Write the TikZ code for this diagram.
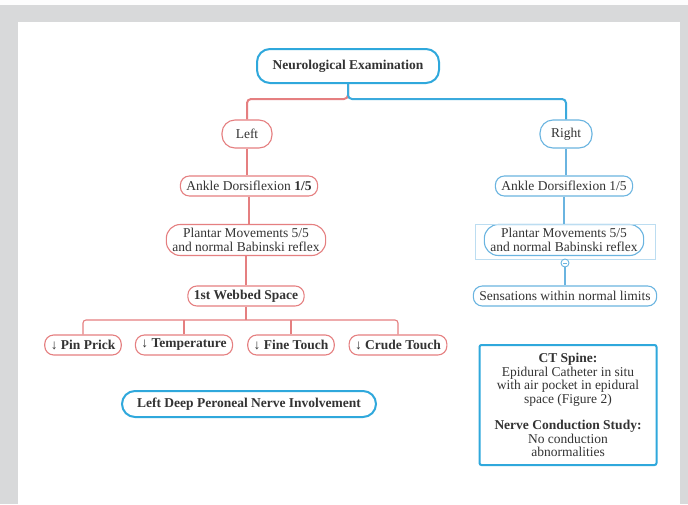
\documentclass[tikz,border=0pt]{standalone}
\usepackage{fontspec}
\setmainfont{Liberation Serif}
\usetikzlibrary{positioning}
\definecolor{redl}{HTML}{E57F80}
\definecolor{bluet}{HTML}{2FA8DC}
\definecolor{bluel}{HTML}{6AB4E0}
\definecolor{txt}{HTML}{333333}
\definecolor{frame}{HTML}{D8D9DA}
\begin{document}
\begin{tikzpicture}[x=1pt,y=-1pt,
  every node/.style={text=txt,font=\fontsize{13.5}{14}\selectfont},
  rbox/.style={draw=redl,line width=1.1pt,rounded corners=9pt,minimum height=20pt,inner xsep=6pt,inner ysep=1pt,fill=white},
  bbox/.style={draw=bluel,line width=1.1pt,rounded corners=9pt,minimum height=20pt,inner xsep=6pt,inner ysep=1pt,fill=white},
  rtwo/.style={rbox,rounded corners=14pt,minimum height=31pt,align=center,font=\fontsize{13.5}{14}\selectfont},
  btwo/.style={bbox,rounded corners=14pt,minimum height=31pt,align=center,font=\fontsize{13.5}{14}\selectfont},
  bfb/.style={font=\fontsize{13.5}{14}\selectfont\bfseries},
  mainbox/.style={draw=bluet,line width=2pt,rounded corners=13pt,fill=white,inner xsep=10pt,font=\fontsize{13.5}{14}\selectfont\bfseries},
  rline/.style={draw=redl,line width=1.1pt},
  bline/.style={draw=bluel,line width=1.1pt},
]
\useasboundingbox (0,0) rectangle (688,504);
\fill[frame] (0,0) rectangle (688,504);
\fill[white!96!frame] (0,0) rectangle (688,5);
\fill[white] (18,22) rectangle (680,504);

\node[mainbox,minimum width=182pt,minimum height=34pt] (root) at (348,66) {Neurological Examination};

\node[rbox,minimum width=50pt,minimum height=28pt,rounded corners=13pt] (left) at (247,134) {Left};
\node[bbox,minimum width=52pt,minimum height=28pt,rounded corners=13pt] (right) at (566,134) {Right};

\node[rbox] (lank) at (249,186) {Ankle Dorsiflexion \textbf{1/5}};
\node[rtwo] (lpl) at (246,240) {Plantar Movements 5/5\\and normal Babinski reflex};
\node[rbox,bfb] (web) at (246,296) {1st Webbed Space};

\node[rbox,bfb] (pin) at (83,345) {↓ Pin Prick};
\node[rbox,bfb] (temp) at (184,345) {↓ Temperature};
\node[rbox,bfb] (fine) at (291,345) {↓ Fine Touch};
\node[rbox,bfb] (crude) at (398,345) {↓ Crude Touch};

\node[mainbox,minimum width=254pt,minimum height=26pt] (ldp) at (249,404) {Left Deep Peroneal Nerve Involvement};

\node[bbox] (rank) at (564,186) {Ankle Dorsiflexion 1/5};
\node[btwo] (rpl) at (564,240) {Plantar Movements 5/5\\and normal Babinski reflex};
\draw[bluel!45,line width=0.8pt] (475,224) rectangle (655,259);
\node[bbox] (sens) at (565,296) {Sensations within normal limits};

\node[draw=bluet,line width=2pt,rounded corners=2pt,minimum width=177pt,minimum height=120pt,align=center,font=\fontsize{13.5}{13.5}\selectfont] (ct) at (568,405)
 {\textbf{CT Spine:}\\Epidural Catheter in situ\\with air pocket in epidural\\space (Figure 2)\\[13pt]\textbf{Nerve Conduction Study:}\\No conduction\\abnormalities};

% root branches
\coordinate (rb) at (348,99);
\draw[redl,line width=2pt,rounded corners=4pt] (root.south) -- (rb) -- (left.north |- rb) -- (left.north);
\draw[bluet!80!bluel,line width=2pt,rounded corners=4pt] (root.south) -- (rb) -- (right.north |- rb) -- (right.north);

% left chain
\draw[rline] (left.south) -- (left.south |- lank.north);
\draw[rline] (lank.south) -- (lank.south |- lpl.north);
\draw[rline] (lpl.south) -- (web.north);
\coordinate (hb) at (246,320);
\draw[rline] (web.south) -- (hb);
\draw[rline,rounded corners=3pt] (pin.north) -- (pin.north |- hb) -- (crude.north |- hb) -- (crude.north);
\draw[rline] (temp.north) -- (temp.north |- hb);
\draw[rline] (fine.north) -- (fine.north |- hb);

% right chain
\draw[bline] (right.south) -- (right.south |- rank.north);
\draw[bline] (rank.south) -- (rank.south |- rpl.north);
\node[draw=bluel,fill=white,circle,line width=0.9pt,inner sep=0pt,minimum size=8pt] (minus) at (565,263) {};
\draw[bluel,line width=0.8pt] ([xshift=-2pt]minus.center) -- ([xshift=2pt]minus.center);
\draw[bline] (minus.south) -- (sens.north);
\end{tikzpicture}
\end{document}
